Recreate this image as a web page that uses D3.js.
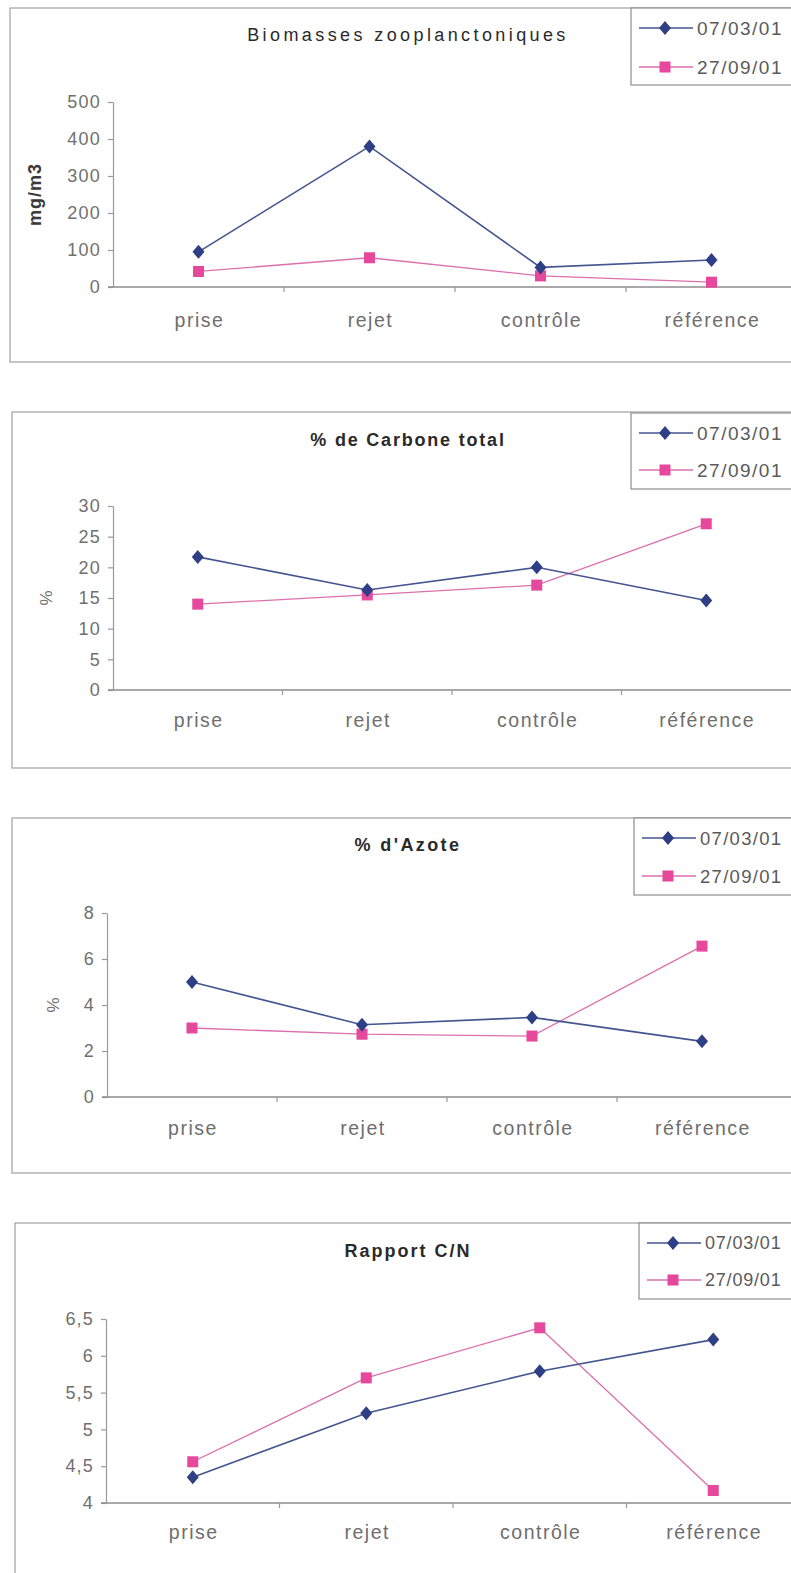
<!DOCTYPE html>
<html>
<head>
<meta charset="utf-8">
<script src="https://cdn.jsdelivr.net/npm/d3@7"></script>
<style>
  html, body { margin: 0; padding: 0; background: #fff; }
  svg { display: block; }
  text { font-family: "Liberation Sans", Arial, sans-serif; }
</style>
</head>
<body>
<svg id="fig" width="791" height="1573"></svg>
<script>
// Sampling stations and campaign dates
const categories = ["prise", "rejet", "contrôle", "référence"];
const seriesNames = ["07/03/01", "27/09/01"];

// Biomasses zooplanctoniques (mg/m3)
const biomasse0703 = [95, 380, 53, 73];
const biomasse2709 = [42, 79, 30, 13];
const biomasseTicks = [0, 100, 200, 300, 400, 500];

// % de Carbone total
const carbone0703 = [21.7, 16.3, 20.0, 14.6];
const carbone2709 = [14.0, 15.5, 17.1, 27.1];
const carboneTicks = [0, 5, 10, 15, 20, 25, 30];

// % d'Azote
const azote0703 = [5.0, 3.14, 3.46, 2.42];
const azote2709 = [3.0, 2.73, 2.65, 6.56];
const azoteTicks = [0, 2, 4, 6, 8];

// Rapport C/N
const rapport0703 = [4.35, 5.22, 5.79, 6.22];
const rapport2709 = [4.56, 5.70, 6.38, 4.17];
const rapportTicks = [4, 4.5, 5, 5.5, 6, 6.5];

const seriesStyle = [
  { line: "#44558f", fill: "#2e3f86", shape: "diamond" },
  { line: "#dc6fae", fill: "#e6489b", shape: "square" }
];

const frAxisFormat = d => String(d).replace(".", ",");

const panels = [
  { title: "Biomasses zooplanctoniques", titleWeight: "normal", titleSpacing: 3.4,
    yTitle: "mg/m3", yTitleBold: true, yTitleX: 35,
    values: [biomasse0703, biomasse2709], ticks: biomasseTicks,
    frame: { x: 10, y: 8, b: 362 }, legend: { x: 631, y: 8, b: 85, r1: 28, r2: 67, size: 19, spacing: 1.5 },
    axisX: 113, yTop: 102, yBottom: 287, step: 171, titleY: 41, labelY: 327 },
  { title: "% de Carbone total", titleWeight: "bold", titleSpacing: 1.8,
    yTitle: "%", yTitleBold: false, yTitleX: 46,
    values: [carbone0703, carbone2709], ticks: carboneTicks,
    frame: { x: 12, y: 412, b: 768 }, legend: { x: 631, y: 413, b: 489, r1: 433, r2: 470, size: 19, spacing: 1.5 },
    axisX: 113, yTop: 506, yBottom: 690, step: 169.5, titleY: 446, labelY: 727 },
  { title: "% d'Azote", titleWeight: "bold", titleSpacing: 2.4,
    yTitle: "%", yTitleBold: false, yTitleX: 53,
    values: [azote0703, azote2709], ticks: azoteTicks,
    frame: { x: 12, y: 818, b: 1173 }, legend: { x: 634, y: 818, b: 895, r1: 838, r2: 876, size: 18.5, spacing: 1.3 },
    axisX: 107, yTop: 913, yBottom: 1097, step: 170, titleY: 851, labelY: 1135 },
  { title: "Rapport C/N", titleWeight: "bold", titleSpacing: 2,
    yTitle: null,
    values: [rapport0703, rapport2709], ticks: rapportTicks, format: frAxisFormat,
    frame: { x: 15, y: 1223, b: 1600 }, legend: { x: 639, y: 1223, b: 1299, r1: 1243, r2: 1280, size: 18, spacing: 0.8 },
    axisX: 106, yTop: 1319, yBottom: 1503, step: 173.5, titleY: 1257, labelY: 1539 }
];

const svg = d3.select("#fig");
svg.append("rect").attr("width", 791).attr("height", 1573).attr("fill", "#fff");

function drawMarker(g, shape, cx, cy, fill) {
  if (shape === "diamond") {
    g.append("path")
      .attr("d", `M${cx},${cy - 7}L${cx + 6},${cy}L${cx},${cy + 7}L${cx - 6},${cy}Z`)
      .attr("fill", fill);
  } else {
    g.append("rect")
      .attr("x", cx - 5.5).attr("y", cy - 5.5)
      .attr("width", 11).attr("height", 11)
      .attr("fill", fill);
  }
}

panels.forEach(p => {
  const g = svg.append("g");

  // chart area frame
  g.append("rect")
    .attr("x", p.frame.x).attr("y", p.frame.y)
    .attr("width", 900).attr("height", p.frame.b - p.frame.y)
    .attr("fill", "none").attr("stroke", "#a8a8a8").attr("stroke-width", 1.3);

  const x = d3.scaleBand()
    .domain(categories)
    .range([p.axisX, p.axisX + p.step * categories.length]);
  const xc = c => x(c) + x.bandwidth() / 2;

  const ticks = p.ticks;
  const y = d3.scaleLinear()
    .domain([ticks[0], ticks[ticks.length - 1]])
    .range([p.yBottom, p.yTop]);

  // title
  g.append("text")
    .attr("x", 408).attr("y", p.titleY)
    .attr("text-anchor", "middle")
    .attr("font-size", 18)
    .attr("font-weight", p.titleWeight)
    .attr("letter-spacing", p.titleSpacing)
    .attr("fill", "#2a2a2a")
    .text(p.title);

  // y axis
  const yAxis = d3.axisLeft(y)
    .tickValues(ticks)
    .tickSize(5)
    .tickSizeOuter(0)
    .tickPadding(7)
    .tickFormat(p.format || (d => String(d)));
  const ya = g.append("g")
    .attr("transform", `translate(${p.axisX},0)`)
    .call(yAxis);
  ya.select(".domain").attr("stroke", "#9a9a9a").attr("stroke-width", 1.2);
  ya.selectAll(".tick line").attr("stroke", "#9a9a9a").attr("stroke-width", 1.2);
  ya.selectAll(".tick text")
    .attr("font-size", 18)
    .attr("letter-spacing", 1.2)
    .attr("fill", "#707070")
    .attr("font-family", "Liberation Sans, Arial, sans-serif");

  // x axis: line across and small ticks at category boundaries
  g.append("line")
    .attr("x1", p.axisX - 5).attr("x2", 800)
    .attr("y1", y(ticks[0])).attr("y2", y(ticks[0]))
    .attr("stroke", "#8c8c8c").attr("stroke-width", 1.3);
  g.selectAll(".xtick")
    .data(categories.slice(1))
    .join("line")
    .attr("x1", d => x(d)).attr("x2", d => x(d))
    .attr("y1", y(ticks[0])).attr("y2", y(ticks[0]) + 5)
    .attr("stroke", "#9a9a9a").attr("stroke-width", 1.2);

  g.selectAll(".xlabel")
    .data(categories)
    .join("text")
    .attr("x", d => xc(d) + 1).attr("y", p.labelY)
    .attr("text-anchor", "middle")
    .attr("font-size", 19.5)
    .attr("letter-spacing", 1.5)
    .attr("fill", "#6e6e6e")
    .text(d => d);

  // y title
  if (p.yTitle) {
    const cy = (p.yTop + p.yBottom) / 2;
    g.append("text")
      .attr("transform", `translate(${p.yTitleX},${cy}) rotate(-90)`)
      .attr("text-anchor", "middle")
      .attr("dy", "0.35em")
      .attr("font-size", p.yTitleBold ? 18 : 17)
      .attr("font-weight", p.yTitleBold ? "bold" : "normal")
      .attr("letter-spacing", p.yTitleBold ? 1 : 0)
      .attr("fill", p.yTitleBold ? "#3a3a3a" : "#707070")
      .text(p.yTitle);
  }

  // series lines and markers (second date drawn first, first date on top where they meet)
  const line = d3.line().x((d, i) => xc(categories[i])).y(d => y(d));
  [1, 0].forEach(si => {
    const vals = p.values[si];
    const st = seriesStyle[si];
    g.append("path")
      .attr("d", line(vals))
      .attr("fill", "none")
      .attr("stroke", st.line)
      .attr("stroke-width", si === 0 ? 1.6 : 1.3);
    vals.forEach((v, i) => drawMarker(g, st.shape, xc(categories[i]), y(v), st.fill));
  });

  // legend
  const lg = g.append("g");
  lg.append("rect")
    .attr("x", p.legend.x).attr("y", p.legend.y)
    .attr("width", 200).attr("height", p.legend.b - p.legend.y)
    .attr("fill", "#fff").attr("stroke", "#8e8e8e").attr("stroke-width", 1.2);
  [p.legend.r1, p.legend.r2].forEach((ry, si) => {
    const st = seriesStyle[si];
    const lx = p.legend.x + 8;
    lg.append("line")
      .attr("x1", lx).attr("x2", lx + 54)
      .attr("y1", ry).attr("y2", ry)
      .attr("stroke", st.line).attr("stroke-width", 1.5);
    drawMarker(lg, st.shape, lx + 26, ry, st.fill);
    lg.append("text")
      .attr("x", lx + 58).attr("y", ry)
      .attr("dy", "0.36em")
      .attr("font-size", p.legend.size)
      .attr("letter-spacing", p.legend.spacing)
      .attr("fill", "#5a5a5a")
      .text(seriesNames[si]);
  });
});
</script>
</body>
</html>
